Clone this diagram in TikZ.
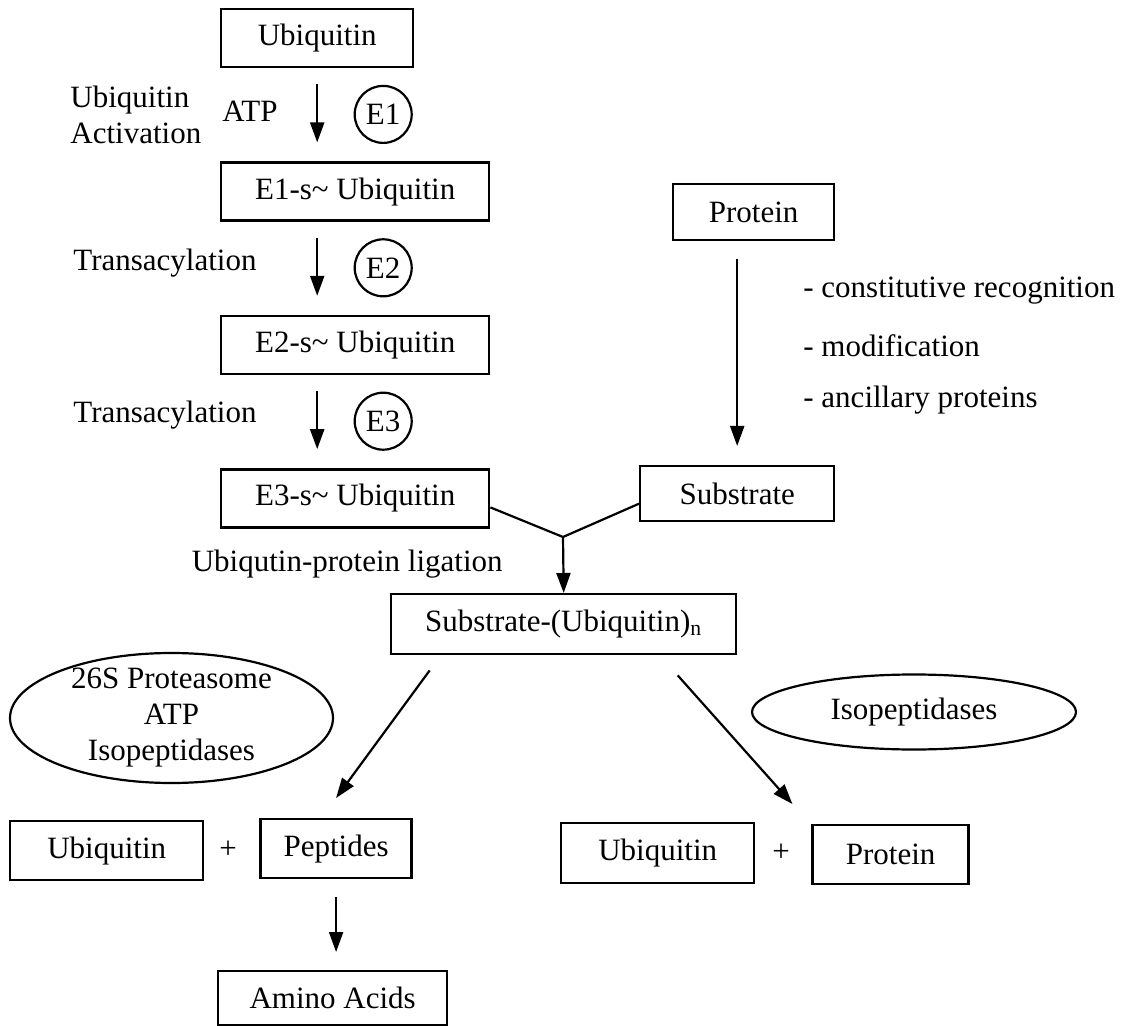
\documentclass[tikz,border=0pt]{standalone}
\usepackage{fontspec}
\setmainfont{Liberation Serif}
\usetikzlibrary{arrows.meta,positioning}

\begin{document}
\begin{tikzpicture}[x=0.5pt,y=-0.5pt,>={Triangle[width=7pt,length=10pt]},font=\fontsize{15.5pt}{18pt}\selectfont]

\def\vsep{46.5pt}
\def\asep{8pt}

\tikzstyle{bnode} = [draw,line width=1.2pt,minimum height=29pt,inner sep=2pt];
\tikzstyle{enode} = [draw,circle,line width=1.1pt,minimum size=28.5pt,inner sep=0pt];
\tikzstyle{lnode} = [inner sep=0pt];
\tikzstyle{arr} = [->,line width=1.1pt];

\useasboundingbox (0,0) rectangle (1135,1026);

\node [bnode,anchor=north west,minimum width=96pt] (ubq) at (220,8) {Ubiquitin};
\node [bnode,anchor=north west,minimum width=134pt] (e1ubq) at ([yshift=-\vsep]ubq.south west) {E1-s\textasciitilde{} Ubiquitin};
\node [bnode,anchor=north west,minimum width=134pt] (e2ubq) at ([yshift=-\vsep]e1ubq.south west) {E2-s\textasciitilde{} Ubiquitin};
\node [bnode,anchor=north west,minimum width=134pt] (e3ubq) at ([yshift=-\vsep]e2ubq.south west) {E3-s\textasciitilde{} Ubiquitin};

\draw [arr] ([yshift=-\asep]ubq.south) -- ([yshift=9.5pt]ubq.south |- e1ubq.north);
\draw [arr] ([yshift=-\asep]ubq.south |- e1ubq.south) -- ([yshift=9.5pt]ubq.south |- e2ubq.north);
\draw [arr] ([yshift=-\asep]ubq.south |- e2ubq.south) -- ([yshift=9.5pt]ubq.south |- e3ubq.north);

\node [enode] (enz1) at ([xshift=33pt,yshift=-23pt]ubq.south) {E1};
\node [enode] (enz2) at ([xshift=33pt,yshift=-23pt]ubq.south |- e1ubq.south) {E2};
\node [enode] (enz3) at ([xshift=33pt,yshift=-23pt]ubq.south |- e2ubq.south) {E3};

\node [lnode,anchor=west,align=left] (actlabel) at (70,115) {Ubiquitin\\Activation};
\node [lnode,anchor=east] (atplabel) at (278,111) {ATP};
\node [lnode,anchor=west] (tlabel1) at (73,263) {Transacylation};
\node [lnode,anchor=west] (tlabel2) at (73,415) {Transacylation};

\node [bnode,anchor=north west,minimum width=80.5pt,minimum height=28pt] (prot) at (672,183) {Protein};
\node [bnode,anchor=north west,minimum width=97pt,minimum height=27.5pt] (subs) at (639,465) {Substrate};
\draw [arr] ([yshift=-9pt]subs.north |- prot.south) -- ([yshift=9.5pt]subs.north);

\node [lnode,anchor=west] (rec1) at (803,291) {- constitutive recognition};
\node [lnode,anchor=west] (rec2) at (803,346) {- modification};
\node [lnode,anchor=west] (rec3) at (803,400) {- ancillary proteins};

\node [bnode,anchor=north west,minimum width=172.5pt,minimum height=30pt] (subub) at (390,593) {Substrate-(Ubiquitin)\textsubscript{n}};
\coordinate (join) at (563,537);
\draw [line width=1.1pt] ([yshift=-4.5pt]e3ubq.east) -- (join) -- ([yshift=-5pt]subs.west);
\draw [arr] (join) -- (subub.north);
\node [lnode,anchor=east] (ligation) at (503,564) {Ubiqutin-protein ligation};

\node [lnode,align=center] (prot26) at (171.5,718) {26S Proteasome\\ATP\\Isopeptidases};
\draw [line width=1.1pt] (prot26) ellipse (80.75pt and 32.5pt);
\node [lnode] (isop) at (914,712) {Isopeptidases};
\draw [line width=1.1pt] (isop) ellipse (81pt and 18.75pt);

\node [bnode,anchor=north west,minimum width=96.5pt,minimum height=29.5pt] (ubq1) at (9,820) {Ubiquitin};
\node [lnode] (plus1) at (228,850) {+};
\node [bnode,anchor=north west,minimum width=75.5pt,minimum height=29.5pt] (pep) at ([xshift=27.5pt,yshift=1pt]ubq1.north east) {Peptides};
\node [bnode,anchor=north west,minimum width=114.5pt,minimum height=27pt] (amino) at (217,970) {Amino Acids};
\draw [arr] ([yshift=-9pt]pep.south) -- ([yshift=9pt]pep.south |- amino.north);

\node [bnode,anchor=north west,minimum width=96.5pt,minimum height=30pt] (ubq2) at (560,822) {Ubiquitin};
\node [lnode] (plus2) at (781,853) {+};
\node [bnode,anchor=north west,minimum width=78pt,minimum height=29.5pt] (prot2) at ([xshift=28pt,yshift=-1pt]ubq2.north east) {Protein};

\draw [arr] ([xshift=-67pt,yshift=-7.5pt]subub.south) -- ([yshift=10pt]pep.north);
\draw [arr] ([xshift=57pt,yshift=-10pt]subub.south) -- ([xshift=-9.5pt,yshift=10pt]prot2.north west);

\end{tikzpicture}
\end{document}
